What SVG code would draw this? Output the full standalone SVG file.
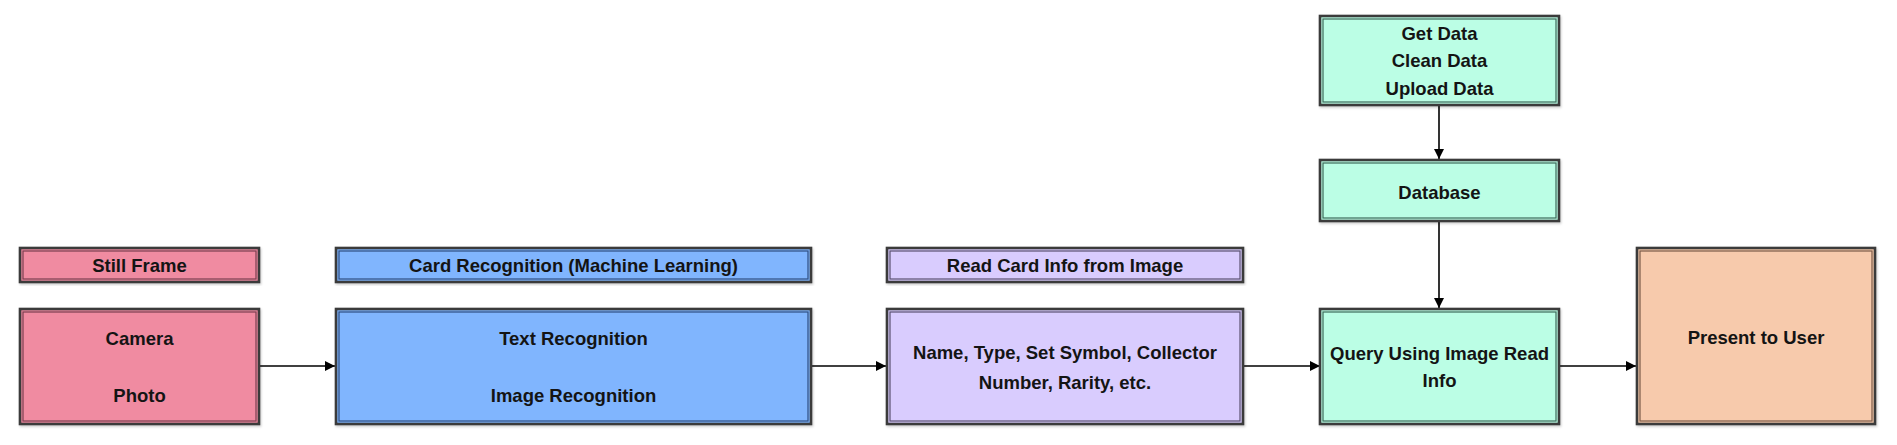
<svg xmlns="http://www.w3.org/2000/svg" width="1897" height="445" viewBox="0 0 1897 445">
<defs>
<marker id="arr" viewBox="0 0 10 10" refX="10" refY="5" markerWidth="10" markerHeight="10" markerUnits="userSpaceOnUse" orient="auto">
<path d="M0,0 L10,5 L0,10 z" fill="#000"/>
</marker>
<filter id="sh" x="-5%" y="-5%" width="110%" height="115%">
<feDropShadow dx="1" dy="1.5" stdDeviation="1" flood-color="#000" flood-opacity="0.2"/>
</filter>
</defs>
<style>
.o{stroke:#3b3b3b;stroke-width:2.6;filter:url(#sh)}
.i{fill:none;stroke-width:1.2}
.t{font-family:"Liberation Sans",Arial,sans-serif;font-weight:bold;font-size:18.5px;fill:#141414;text-anchor:middle}
.c{stroke:#000;stroke-width:1.6;fill:none;marker-end:url(#arr)}
.pink{fill:#F08BA1}.pinki{stroke:#7a4050}
.blue{fill:#80B5FE}.bluei{stroke:#2f4f80}
.pur{fill:#D9CCFE}.puri{stroke:#5a5070}
.mint{fill:#BBFEE5}.minti{stroke:#3f6a5a}
.peach{fill:#F7CAAC}.peachi{stroke:#7a5a48}
</style>
<rect width="1897" height="445" fill="#fff"/>
<g id="connectors">
<line class="c" x1="259" y1="366" x2="335" y2="366"/>
<line class="c" x1="811" y1="366" x2="886" y2="366"/>
<line class="c" x1="1243" y1="366" x2="1320" y2="366"/>
<line class="c" x1="1559" y1="366" x2="1636" y2="366"/>
<line class="c" x1="1439" y1="106" x2="1439" y2="159"/>
<line class="c" x1="1439" y1="222" x2="1439" y2="308"/>
</g>
<g id="still-frame">
<rect class="o pink" x="20" y="248" width="239" height="34"/>
<rect class="i pinki" x="23" y="251" width="233" height="28"/>
<text class="t" x="139.5" y="271.5">Still Frame</text>
</g>
<g id="camera-photo">
<rect class="o pink" x="20" y="309" width="239" height="115"/>
<rect class="i pinki" x="23" y="312" width="233" height="109"/>
<text class="t" x="139.5" y="345">Camera</text>
<text class="t" x="139.5" y="402">Photo</text>
</g>
<g id="card-recognition-header">
<rect class="o blue" x="336" y="248" width="475" height="34"/>
<rect class="i bluei" x="339" y="251" width="469" height="28"/>
<text class="t" x="573.5" y="271.5">Card Recognition (Machine Learning)</text>
</g>
<g id="recognition">
<rect class="o blue" x="336" y="309" width="475" height="115"/>
<rect class="i bluei" x="339" y="312" width="469" height="109"/>
<text class="t" x="573.5" y="345">Text Recognition</text>
<text class="t" x="573.5" y="402">Image Recognition</text>
</g>
<g id="read-card-header">
<rect class="o pur" x="887" y="248" width="356" height="34"/>
<rect class="i puri" x="890" y="251" width="350" height="28"/>
<text class="t" x="1065" y="271.5">Read Card Info from Image</text>
</g>
<g id="card-info">
<rect class="o pur" x="887" y="309" width="356" height="115"/>
<rect class="i puri" x="890" y="312" width="350" height="109"/>
<text class="t" x="1065" y="359">Name, Type, Set Symbol, Collector</text>
<text class="t" x="1065" y="389">Number, Rarity, etc.</text>
</g>
<g id="data-prep">
<rect class="o mint" x="1320" y="16" width="239" height="89"/>
<rect class="i minti" x="1323" y="19" width="233" height="83"/>
<text class="t" x="1439.5" y="39.5">Get Data</text>
<text class="t" x="1439.5" y="67">Clean Data</text>
<text class="t" x="1439.5" y="94.5">Upload Data</text>
</g>
<g id="database">
<rect class="o mint" x="1320" y="160" width="239" height="61"/>
<rect class="i minti" x="1323" y="163" width="233" height="55"/>
<text class="t" x="1439.5" y="198.5">Database</text>
</g>
<g id="query">
<rect class="o mint" x="1320" y="309" width="239" height="115"/>
<rect class="i minti" x="1323" y="312" width="233" height="109"/>
<text class="t" x="1439.5" y="359.5">Query Using Image Read</text>
<text class="t" x="1439.5" y="387">Info</text>
</g>
<g id="present">
<rect class="o peach" x="1637" y="248" width="238" height="176"/>
<rect class="i peachi" x="1640" y="251" width="232" height="170"/>
<text class="t" x="1756" y="343.5">Present to User</text>
</g>
</svg>
